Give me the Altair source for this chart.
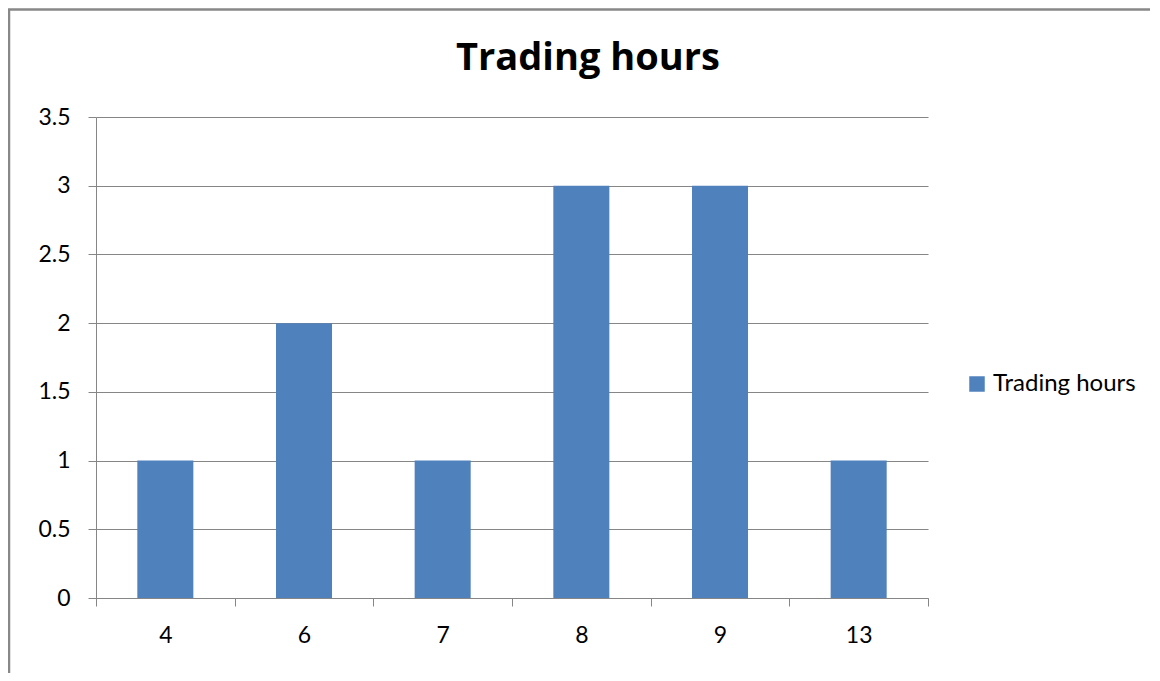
import altair as alt
import pandas as pd

categories = ["4", "6", "7", "8", "9", "13"]
values = [1, 2, 1, 3, 3, 1]
series_name = "Trading hours"

df = pd.DataFrame({"cat": categories, "val": values, "series": [series_name] * len(categories)})

FONT = "Lato"
W, H = 832, 481

bars = alt.Chart(df).mark_bar(color="#4F81BD", width=alt.RelativeBandSize(0.404)).encode(
    x=alt.X(
        "cat:N",
        sort=categories,
        title=None,
        scale=alt.Scale(paddingInner=0, paddingOuter=0),
        axis=alt.Axis(
            labelAngle=0,
            tickBand="extent",
            tickSize=8,
            labelPadding=18,
            labelFontSize=23,
            labelFont=FONT,
            labelColor="#000000",
            domainColor="#868686",
            tickColor="#868686",
            grid=False,
        ),
    ),
    y=alt.Y(
        "val:Q",
        title=None,
        scale=alt.Scale(domain=[0, 3.5], nice=False),
        axis=alt.Axis(
            values=[0, 0.5, 1, 1.5, 2, 2.5, 3, 3.5],
            labelExpr="datum.value + ''",
            tickSize=8,
            labelPadding=18,
            labelFontSize=23,
            labelFont=FONT,
            labelColor="#000000",
            domainColor="#868686",
            tickColor="#868686",
            gridColor="#868686",
            gridOpacity=1,
        ),
    ),
    color=alt.Color(
        "series:N",
        scale=alt.Scale(domain=[series_name], range=["#4F81BD"]),
        legend=alt.Legend(
            title=None,
            orient="none",
            legendX=869,
            legendY=255,
            symbolType="square",
            symbolSize=240,
            symbolStrokeWidth=0,
            labelFontSize=24,
            labelFont=FONT,
            labelColor="#000000",
        ),
    ),
)

border = alt.Chart(pd.DataFrame({"a": [0]})).mark_rect(
    fill=None, stroke="#888888", strokeWidth=2.5
).encode(
    x=alt.value(-87), x2=alt.value(1200),
    y=alt.value(-107.5), y2=alt.value(700),
)

chart = alt.layer(border, bars).properties(
    width=W,
    height=H,
    padding={"left": 88, "top": 109, "right": 222, "bottom": 75},
    autosize=alt.AutoSizeParams(type="none"),
    title=alt.TitleParams(
        text="Trading hours",
        font="Open Sans",
        fontSize=38,
        fontWeight="bold",
        color="#000000",
        anchor="middle",
        dx=76,
        offset=-70,
    ),
).configure_view(stroke=None)

chart.save("out.html", embed_options={"renderer": "svg", "actions": False})
